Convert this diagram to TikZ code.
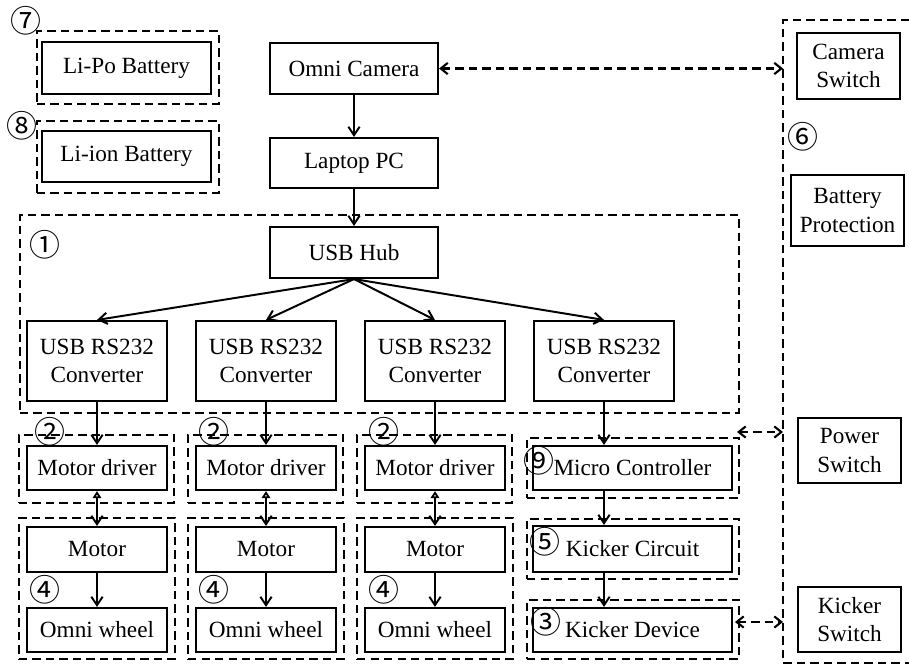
\documentclass[tikz,border=0pt]{standalone}
\usepackage{fontspec}
\setmainfont{Liberation Serif}
\newfontfamily\circfont{Noto Sans CJK JP}
\usetikzlibrary{arrows.meta}
\tikzset{
  wh/.style 2 args={minimum width=#1*0.025cm,minimum height=#2*0.025cm},
  blk/.style={draw,line width=1.5pt,rectangle,inner sep=0pt,align=center,font=\fontsize{16.5}{20}\selectfont},
  grp/.style={draw,line width=1.5pt,dash pattern=on 6pt off 3.6pt,rectangle,inner sep=0pt},
  num/.style={font=\circfont\fontsize{22}{22}\selectfont,inner sep=0pt},
  link/.style={line width=1.4pt,-{Straight Barb[length=6pt,width=8pt]}},
  blink/.style={line width=1.4pt,{Triangle[open,length=5pt,width=6pt]}-{Straight Barb[length=6pt,width=8pt]}},
  dlink/.style={line width=1.5pt,dash pattern=on 6pt off 3.6pt,{Straight Barb[length=5pt,width=8pt]}-{Straight Barb[length=5pt,width=8pt]}}
}
\begin{document}
\begin{tikzpicture}[x=0.025cm,y=-0.025cm]
        \useasboundingbox (0,0) rectangle (909,666);
        %% Batteries
        \node[grp,wh={182}{73}] (g7) at (128,67.5) {};
        \node[grp,wh={182}{72}] (g8) at (128,157) {};
        \node[blk,wh={169}{52}] (lipo) at (126.5,68) {Li-Po Battery};
        \node[blk,wh={169}{51}] (liion) at (126.5,156.5) {Li-ion Battery};
        \node[num] (n7) at (26,21) {⑦};
        \node[num] (n8) at (22,126) {⑧};
        %% Camera and PC
        \node[blk,wh={168}{51}] (cam) at (354,68.5) {Omni Camera};
        \node[blk,wh={168}{50}] (pc) at (354,163) {Laptop PC};
        %% Hub and converters
        \node[grp,wh={719}{198}] (g1) at (379.5,314) {};
        \node[num] (n1) at (45,245) {①};
        \node[blk,wh={168}{51}] (hub) at (354,252.5) {USB Hub};
        \node[blk,wh={140}{80}] (cv1) at (97,361) {USB RS232\\Converter};
        \node[blk,wh={140}{80}] (cv2) at (266,361) {USB RS232\\Converter};
        \node[blk,wh={140}{80}] (cv3) at (435,361) {USB RS232\\Converter};
        \node[blk,wh={140}{80}] (cv4) at (604,361) {USB RS232\\Converter};
        %% Motor columns
        \node[grp,wh={155}{68}] (g2a) at (96.5,469) {};
        \node[grp,wh={155}{68}] (g2b) at (265.5,469) {};
        \node[grp,wh={155}{68}] (g2c) at (434.5,469) {};
        \node[grp,wh={156}{141}] (g4a) at (97,588.5) {};
        \node[grp,wh={156}{141}] (g4b) at (266,588.5) {};
        \node[grp,wh={156}{141}] (g4c) at (435,588.5) {};
        \node[blk,wh={140}{44}] (md1) at (97,468) {Motor driver};
        \node[blk,wh={140}{44}] (md2) at (266,468) {Motor driver};
        \node[blk,wh={140}{44}] (md3) at (435,468) {Motor driver};
        \node[blk,wh={140}{45}] (mo1) at (97,549.5) {Motor};
        \node[blk,wh={140}{45}] (mo2) at (266,549.5) {Motor};
        \node[blk,wh={140}{45}] (mo3) at (435,549.5) {Motor};
        \node[blk,wh={140}{44}] (ow1) at (97,630) {Omni wheel};
        \node[blk,wh={140}{44}] (ow2) at (266,630) {Omni wheel};
        \node[blk,wh={140}{44}] (ow3) at (435,630) {Omni wheel};
        \node[num] (n2a) at (50,432) {②};
        \node[num] (n2b) at (214,432) {②};
        \node[num] (n2c) at (384,432) {②};
        \node[num] (n4a) at (45,590) {④};
        \node[num] (n4b) at (214,590) {④};
        \node[num] (n4c) at (384,590) {④};
        %% Kicker column
        \node[grp,wh={212}{60}] (g9) at (633,468) {};
        \node[grp,wh={212}{60}] (g5) at (633,549) {};
        \node[grp,wh={212}{59}] (g3) at (633,629.5) {};
        \node[blk,wh={199}{44}] (mc) at (632.5,468) {Micro Controller};
        \node[blk,wh={199}{46}] (kc) at (632.5,549) {Kicker Circuit};
        \node[blk,wh={199}{44}] (kd) at (632.5,630) {Kicker Device};
        \node[num] (n9) at (539,461) {⑨};
        \node[num] (n5) at (545,542) {⑤};
        \node[num] (n3) at (546,622) {③};
        %% Switches
        \draw[grp] (909,20) -- (783,20) -- (783,663) -- (909,663);
        \coordinate (g6) at (783,20);
        \node[blk,wh={103}{66}] (camsw) at (848.5,66) {Camera\\Switch};
        \node[num] (n6) at (803,137) {⑥};
        \node[blk,wh={113}{71}] (batp) at (847.5,210.5) {Battery\\Protection};
        \node[blk,wh={103}{65}] (pwsw) at (849.5,450.5) {Power\\Switch};
        \node[blk,wh={103}{65}] (kksw) at (849.5,619.5) {Kicker\\Switch};
        %% Links
        \draw[link] (cam) -- (pc);
        \draw[link] (pc) -- (hub);
        \draw[link] (hub.south) -- (cv1.north);
        \draw[link] (hub.south) -- (cv2.north);
        \draw[link] (hub.south) -- (cv3.north);
        \draw[link] (hub.south) -- (cv4.north);
        \draw[link] (cv1) -- (md1);
        \draw[link] (cv2) -- (md2);
        \draw[link] (cv3) -- (md3);
        \draw[blink] (md1) -- (mo1);
        \draw[blink] (md2) -- (mo2);
        \draw[blink] (md3) -- (mo3);
        \draw[link] (mo1) -- (ow1);
        \draw[link] (mo2) -- (ow2);
        \draw[link] (mo3) -- (ow3);
        \draw[link] (cv4.south) -- (cv4.south |- mc.north);
        \draw[link] (cv4.south |- mc.south) -- (cv4.south |- kc.north);
        \draw[link] (cv4.south |- kc.south) -- (cv4.south |- kd.north);
        %% Switch links
        \coordinate (pwl) at (737,432);
        \coordinate (kdl) at (735,622);
        \draw[dlink] (cam.east) -- (cam.east -| g6);
        \draw[dlink] (pwl) -- (pwl -| g6);
        \draw[dlink] (kdl) -- (kdl -| g6);
\end{tikzpicture}
\end{document}
